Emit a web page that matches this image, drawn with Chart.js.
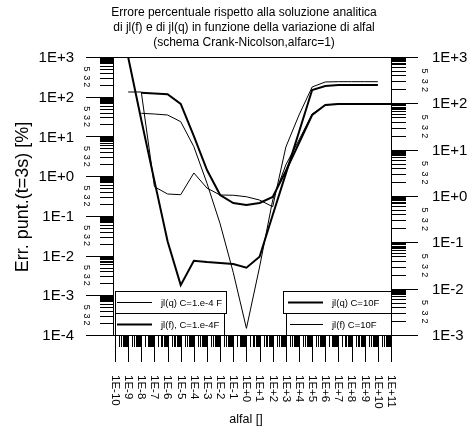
<!DOCTYPE html>
<html>
<head>
<meta charset="utf-8">
<script src="https://cdn.jsdelivr.net/npm/chart.js@4/dist/chart.umd.min.js"></script>
<style>
  html, body { margin: 0; padding: 0; background: #fff; }
  #wrap { width: 471px; height: 433px; }
</style>
</head>
<body>
<div id="wrap"><canvas id="errChart" width="471" height="433"></canvas></div>
<script>
// alfal values (x axis, one per decade)
const alfal = [1e-10, 1e-9, 1e-8, 1e-7, 1e-6, 1e-5, 1e-4, 1e-3, 1e-2, 1e-1, 1e0,
               1e1, 1e2, 1e3, 1e4, 1e5, 1e6, 1e7, 1e8, 1e9, 1e10, 1e11];
const xTickLabels = ["1E-10", "1E-9", "1E-8", "1E-7", "1E-6", "1E-5", "1E-4", "1E-3", "1E-2", "1E-1", "1E+0",
                     "1E+1", "1E+2", "1E+3", "1E+4", "1E+5", "1E+6", "1E+7", "1E+8", "1E+9", "1E+10", "1E+11"];
const leftTickLabels = ["1E-4", "1E-3", "1E-2", "1E-1", "1E+0", "1E+1", "1E+2", "1E+3"];
const rightTickLabels = ["1E-3", "1E-2", "1E-1", "1E+0", "1E+1", "1E+2", "1E+3"];

// C = 1.e-4 F  (left axis)
const jlqSmall = [null, 131.5, 131.5, 0.542, 0.355, 0.341, 1.2, 0.50, 0.335, 0.33, 0.303,
                  0.25, 0.17, 5.4, 34.6, 176, 235, 239, 239, 239, 239, null];
const jlfSmall = [null, 1000, 26, 0.76, 0.023, 0.0018, 0.00743, 0.00689, 0.0065, 0.00613, 0.00494,
                  0.00935, 0.105, 1.16, 12.9, 147.6, 186, 197, 197, 197, 197, null];
// C = 10F  (right axis)
const jlqBig = [null, null, 169, 163, 157, 96.8, 19.7, 3.64, 1.05, 0.706, 0.64,
                0.706, 0.95, 3.46, 13.9, 56, 92, 96.8, 96.8, 96.8, 96.8, 96.8];
const jlfBig = [null, null, 61, 58.8, 56, 40.2, 11.6, 1.88, 0.25, 0.0222, 0.00139,
                0.0293, 0.82, 4.7, 16.2, 58.8, 92, 96.8, 96.8, 96.8, 96.8, 96.8];

const FONT = "'Liberation Sans', Arial, sans-serif";

function pts(values) {
    return alfal.map((x, i) => ({ x: x, y: values[i] }));
}

// ticks inside one decade (multiples of the decade value)
const minorSteps = [2, 3, 4, 5, 6, 7, 7.5, 8, 8.5, 9, 9.5];
const pianoSteps = [2, 3, 4, 5, 5.5, 6, 6.5, 7, 7.5, 8, 8.5, 9, 9.5];

// text turned a quarter turn clockwise, anchored at (x, y)
function sidewaysText(ctx, text, x, y) {
    ctx.save();
    ctx.setTransform(0, 1, -1, 0, x, y);
    ctx.fillText(text, 0, 0);
    ctx.restore();
}

const framePlugin = {
    id: "framePlugin",
    afterDraw: (chart) => {
        const { ctx, chartArea: a, scales } = chart;
        const yl = scales.y, yr = scales.y2, xs = scales.x;
        ctx.save();
        ctx.strokeStyle = "#000";
        ctx.fillStyle = "#000";
        ctx.lineWidth = 1;

        // frame
        ctx.strokeRect(a.left - 1.5, a.top + 0.5, a.right - a.left + 2, a.bottom - a.top);

        // title
        ctx.textAlign = "center";
        ctx.textBaseline = "middle";
        ctx.font = "12px " + FONT;
        ctx.fillText("Errore percentuale rispetto alla soluzione analitica", 244, 13);
        ctx.fillText("di jl(f) e di jl(q) in funzione della variazione di alfal", 244, 28);
        ctx.fillText("(schema Crank-Nicolson,alfarc=1)", 244, 43);

        // left log axis
        ctx.beginPath();
        for (let d = -4; d <= 3; d++) {
            const y = Math.round(yl.getPixelForValue(Math.pow(10, d))) + 0.5;
            ctx.moveTo(86, y); ctx.lineTo(a.left - 2, y);
            if (d < 3) {
                minorSteps.forEach((k) => {
                    const ym = Math.round(yl.getPixelForValue(k * Math.pow(10, d))) + 0.5;
                    ctx.moveTo(100, ym); ctx.lineTo(a.left - 2, ym);
                });
            }
        }
        ctx.stroke();
        ctx.font = "15px " + FONT;
        ctx.textAlign = "right";
        leftTickLabels.forEach((t, i) => {
            ctx.fillText(t, 74, yl.getPixelForValue(Math.pow(10, i - 4)) + 1);
        });

        // right log axis
        ctx.beginPath();
        for (let d = -3; d <= 3; d++) {
            const y = Math.round(yr.getPixelForValue(Math.pow(10, d))) + 0.5;
            ctx.moveTo(a.right, y); ctx.lineTo(418, y);
            if (d < 3) {
                minorSteps.forEach((k) => {
                    const ym = Math.round(yr.getPixelForValue(k * Math.pow(10, d))) + 0.5;
                    ctx.moveTo(a.right, ym); ctx.lineTo(406, ym);
                });
            }
        }
        ctx.stroke();
        ctx.textAlign = "left";
        rightTickLabels.forEach((t, i) => {
            ctx.fillText(t, 432, yr.getPixelForValue(Math.pow(10, i - 3)) + 1);
        });

        // small 5 / 3 / 2 marks beside the minor ticks
        ctx.font = "9px " + FONT;
        ctx.textAlign = "center";
        ctx.textBaseline = "middle";
        for (let d = -4; d < 3; d++) {
            [5, 3, 2].forEach((k) => {
                sidewaysText(ctx, String(k), 86, yl.getPixelForValue(k * Math.pow(10, d)));
            });
        }
        for (let d = -3; d < 3; d++) {
            [5, 3, 2].forEach((k) => {
                sidewaysText(ctx, String(k), 424, yr.getPixelForValue(k * Math.pow(10, d)));
            });
        }

        // x axis: dense minor ticks and long decade ticks
        ctx.beginPath();
        alfal.forEach((v, i) => {
            const x = Math.round(xs.getPixelForValue(v)) + 0.5;
            ctx.moveTo(x, a.bottom); ctx.lineTo(x, 362);
            if (i < alfal.length - 1) {
                pianoSteps.forEach((k) => {
                    const xm = Math.round(xs.getPixelForValue(k * v)) + 0.5;
                    ctx.moveTo(xm, a.bottom); ctx.lineTo(xm, 347);
                });
            }
        });
        ctx.stroke();

        // x tick labels, reading downwards
        ctx.font = "11.5px " + FONT;
        ctx.textAlign = "left";
        xTickLabels.forEach((t, i) => {
            sidewaysText(ctx, t, xs.getPixelForValue(alfal[i]), 375);
        });

        // axis titles
        ctx.textAlign = "center";
        ctx.font = "12.5px " + FONT;
        ctx.fillText("alfal []", 246, 420);
        ctx.save();
        ctx.translate(23, 197);
        ctx.rotate(-Math.PI / 2);
        ctx.font = "18px " + FONT;
        ctx.fillText("Err. punt.(t=3s) [%]", 0, 0);
        ctx.restore();

        // legend boxes
        const box = (x, y, w, h, lw, label, lineX0, lineX1, textX) => {
            ctx.fillStyle = "#fff";
            ctx.fillRect(x, y, w, h);
            ctx.strokeStyle = "#000";
            ctx.lineWidth = 1;
            ctx.strokeRect(x + 0.5, y + 0.5, w, h);
            ctx.beginPath();
            ctx.lineWidth = lw;
            ctx.moveTo(lineX0, y + h / 2 + 0.5);
            ctx.lineTo(lineX1, y + h / 2 + 0.5);
            ctx.stroke();
            ctx.fillStyle = "#000";
            ctx.font = "9.5px " + FONT;
            ctx.textAlign = "left";
            ctx.fillText(label, textX, y + h / 2 + 1);
        };
        box(115, 291, 111, 22, 1, "jl(q) C=1.e-4 F", 117, 152, 161);
        box(115, 313, 109, 22, 2, "jl(f), C=1.e-4F", 117, 152, 161);
        box(283, 291, 108, 22, 2, "jl(q) C=10F", 288, 323, 332);
        box(286, 313, 105, 22, 1, "jl(f) C=10F", 290, 323, 332);

        ctx.restore();
    },
};

const ctx = document.getElementById("errChart").getContext("2d");

const errChart = new Chart(ctx, {
    type: "line",
    data: {
        datasets: [
            { label: "jl(q) C=1.e-4 F", data: pts(jlqSmall), yAxisID: "y", borderWidth: 1 },
            { label: "jl(f), C=1.e-4F", data: pts(jlfSmall), yAxisID: "y", borderWidth: 2 },
            { label: "jl(q) C=10F", data: pts(jlqBig), yAxisID: "y2", borderWidth: 2 },
            { label: "jl(f) C=10F", data: pts(jlfBig), yAxisID: "y2", borderWidth: 1 },
        ].map((ds) => Object.assign(ds, {
            borderColor: "#000",
            backgroundColor: "#000",
            pointRadius: 0,
            tension: 0,
            fill: false,
            spanGaps: false,
        })),
    },
    options: {
        responsive: false,
        animation: false,
        events: [],
        layout: { padding: { top: 57, left: 0, right: 0, bottom: 0 } },
        plugins: {
            legend: { display: false },
            tooltip: { enabled: false },
        },
        scales: {
            x: {
                type: "logarithmic",
                min: 1e-10,
                max: 1e11,
                grid: { display: false },
                border: { display: false },
                ticks: { display: false },
                afterFit: (scale) => { scale.height = 98; },
            },
            y: {
                type: "logarithmic",
                position: "left",
                min: 1e-4,
                max: 1e3,
                grid: { display: false },
                border: { display: false },
                ticks: { display: false },
                afterFit: (scale) => { scale.width = 115; },
            },
            y2: {
                type: "logarithmic",
                position: "right",
                min: 1e-3,
                max: 1e3,
                grid: { display: false },
                border: { display: false },
                ticks: { display: false },
                afterFit: (scale) => { scale.width = 80; },
            },
        },
    },
    plugins: [framePlugin],
});
</script>
</body>
</html>
